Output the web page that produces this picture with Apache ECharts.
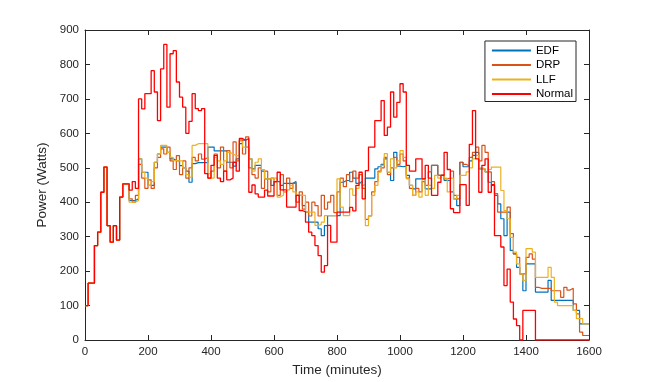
<!DOCTYPE html>
<html>
<head>
<meta charset="utf-8">
<script src="https://cdn.jsdelivr.net/npm/echarts@6/dist/echarts.min.js"></script>
<style>
html,body{margin:0;padding:0;background:#fff;}
#chart{width:651px;height:382px;}
</style>
</head>
<body>
<div id="chart"></div>
<script>
// Time in minutes (x values)
const times = [
  0,10,20,30,40,50,60,70,80,90,
  100,110,120,130,140,150,160,170,180,190,
  200,210,220,230,240,250,260,270,280,290,
  300,310,320,330,340,350,360,370,380,390,
  400,410,420,430,440,450,460,470,480,490,
  500,510,520,530,540,550,560,570,580,590,
  600,610,620,630,640,650,660,670,680,690,
  700,710,720,730,740,750,760,770,780,790,
  800,810,820,830,840,850,860,870,880,890,
  900,910,920,930,940,950,960,970,980,990,
  1000,1010,1020,1030,1040,1050,1060,1070,1080,1090,
  1100,1110,1120,1130,1140,1150,1160,1170,1180,1190,
  1200,1210,1220,1230,1240,1250,1260,1270,1280,1290,
  1300,1310,1320,1330,1340,1350,1360,1370,1380,1390,
  1400,1410,1420,1430,1440,1450,1460,1470,1480,1490,
  1500,1510,1520,1530,1540,1550,1560,1570,1580,1590,
  1600
];

const edf = [
  100,165,165,274,313,429,502,332,284,332,
  290,415,453,453,405,405,410,526,487,487,
  449,449,516,540,560,560,545,526,521,520,
  506,500,490,458,512,515,515,515,515,560,
  560,549,549,549,549,516,516,505,526,570,
  580,560,526,497,507,507,490,468,468,449,
  460,460,449,455,455,455,460,420,420,390,
  371,342,342,342,323,303,332,361,361,361,
  361,458,463,463,487,470,455,460,449,470,
  470,470,497,503,510,526,487,463,545,505,
  503,505,478,449,439,468,468,468,439,439,
  507,507,478,478,463,463,430,410,390,516,
  503,503,520,536,545,497,497,488,458,449,
  420,395,352,303,371,260,250,211,192,143,
  221,221,221,139,139,139,139,173,115,115,
  115,115,115,115,115,86,86,47,47,47,
  47
];

const drp = [
  100,165,165,274,313,429,502,332,284,332,
  290,415,453,453,410,400,420,510,470,440,
  465,440,500,530,555,540,560,520,495,535,
  480,520,470,500,530,520,540,525,530,470,
  490,540,500,560,490,550,500,575,520,580,
  540,590,500,480,470,500,440,490,430,470,
  460,420,480,430,470,440,455,400,430,380,
  400,360,400,390,360,420,380,400,420,370,
  430,470,445,480,460,490,470,480,440,350,
  360,430,460,490,500,530,480,500,530,510,
  540,520,470,440,420,440,430,460,449,488,
  507,507,478,480,468,470,490,420,410,516,
  510,505,530,545,560,520,565,545,488,460,
  425,371,371,371,386,309,250,240,192,192,
  240,250,235,153,150,150,150,150,143,143,
  143,124,153,145,150,105,76,23,13,13,
  13
];

const llf = [
  100,165,165,274,313,429,502,332,284,332,
  290,415,453,453,400,400,405,526,487,470,
  449,460,516,540,565,565,545,530,521,520,
  520,500,480,473,565,570,570,570,570,483,
  470,530,520,510,520,545,540,535,535,577,
  560,560,526,490,516,526,495,468,468,470,
  470,415,420,430,436,449,430,420,420,420,
  371,371,371,333,335,342,361,361,361,361,
  468,386,361,361,439,420,440,455,449,332,
  361,420,449,487,507,541,487,526,500,520,
  550,530,468,449,420,430,415,468,420,449,
  440,478,470,478,470,430,470,410,420,478,
  478,488,500,526,536,500,497,488,495,502,
  502,502,434,376,352,298,255,221,192,173,
  265,265,255,182,182,182,182,211,182,110,
  100,100,100,100,100,86,62,62,47,47,
  47
];

const normal = [
  100,165,165,274,313,429,502,332,284,332,
  290,415,453,453,435,460,440,700,671,715,
  715,782,720,637,787,858,676,831,840,749,
  705,676,600,635,715,672,666,672,483,470,
  507,536,470,460,490,465,470,516,490,585,
  580,585,429,450,424,415,415,435,418,418,
  460,487,436,436,386,386,386,420,376,372,
  342,313,303,274,245,197,216,333,284,284,
  371,371,371,371,385,375,449,487,410,492,
  560,560,637,637,695,594,618,720,647,690,
  744,720,507,490,490,526,526,468,507,470,
  420,420,458,478,545,495,381,370,370,451,
  451,391,568,666,526,429,507,526,429,451,
  303,303,270,158,206,110,61,42,0,86,
  86,86,86,0,0,0,0,0,0,0,
  0,0,0,0,0,0,0,0,0,0,
  0
];

const seriesNames = ['EDF', 'DRP', 'LLF', 'Normal'];
const seriesValues = [edf, drp, llf, normal];
const seriesColors = ['#0072BD', '#D95319', '#EDB120', '#FF0000'];

const xTicks = [0, 200, 400, 600, 800, 1000, 1200, 1400, 1600];
const yTicks = [0, 100, 200, 300, 400, 500, 600, 700, 800, 900];

const axisColor = '#262626';
const fontFam = '"Liberation Sans", Arial, Helvetica, sans-serif';

const chart = echarts.init(document.getElementById('chart'), null, {renderer: 'canvas'});

function pairs(vals) {
  return times.map((t, i) => [t, vals[i]]);
}

const baseAxisX = {
  type: 'value', min: xTicks[0], max: xTicks[xTicks.length - 1], interval: 200,
  axisLine: {show: true, onZero: false, lineStyle: {color: axisColor, width: 1}},
  axisTick: {show: true, inside: true, length: 5, lineStyle: {color: axisColor}},
  splitLine: {show: false}
};
const baseAxisY = {
  type: 'value', min: yTicks[0], max: yTicks[yTicks.length - 1], interval: 100,
  axisLine: {show: true, onZero: false, lineStyle: {color: axisColor, width: 1}},
  axisTick: {show: true, inside: true, length: 5, lineStyle: {color: axisColor}},
  splitLine: {show: false}
};

const option = {
  animation: false,
  backgroundColor: '#fff',
  grid: {left: 85, right: 62, top: 30, bottom: 42, containLabel: false},
  legend: {
    data: seriesNames,
    orient: 'vertical',
    right: 75,
    top: 41,
    icon: 'rect',
    itemWidth: 39,
    itemHeight: 2,
    itemGap: 1.5,
    padding: [3, 3, 1, 7],
    borderColor: axisColor,
    borderWidth: 1,
    backgroundColor: '#fff',
    textStyle: {fontFamily: fontFam, fontSize: 11.5, color: '#000', lineHeight: 13}
  },
  xAxis: [
    Object.assign({}, baseAxisX, {
      position: 'bottom',
      name: 'Time (minutes)', nameLocation: 'middle', nameGap: 23,
      nameTextStyle: {fontFamily: fontFam, fontSize: 13.5, color: axisColor},
      axisLabel: {show: true, margin: 6, fontFamily: fontFam, fontSize: 11.5, color: axisColor,
        formatter: function (v) { return String(v); }}
    }),
    Object.assign({}, baseAxisX, {position: 'top', axisLabel: {show: false}})
  ],
  yAxis: [
    Object.assign({}, baseAxisY, {
      position: 'left',
      name: 'Power (Watts)', nameLocation: 'middle', nameGap: 31,
      nameTextStyle: {fontFamily: fontFam, fontSize: 13.5, color: axisColor},
      axisLabel: {show: true, margin: 6, fontFamily: fontFam, fontSize: 11.5, color: axisColor,
        formatter: function (v) { return String(v); }}
    }),
    Object.assign({}, baseAxisY, {position: 'right', axisLabel: {show: false}})
  ],
  series: seriesNames.map((name, k) => ({
    name: name,
    type: 'line',
    xAxisIndex: 0,
    yAxisIndex: 0,
    step: 'end',
    showSymbol: false,
    symbol: 'none',
    clip: true,
    data: pairs(seriesValues[k]),
    lineStyle: {color: seriesColors[k], width: k === 3 ? 1.3 : 1.2},
    itemStyle: {color: seriesColors[k]},
    z: 2 + k
  }))
};

chart.setOption(option);
</script>
</body>
</html>
